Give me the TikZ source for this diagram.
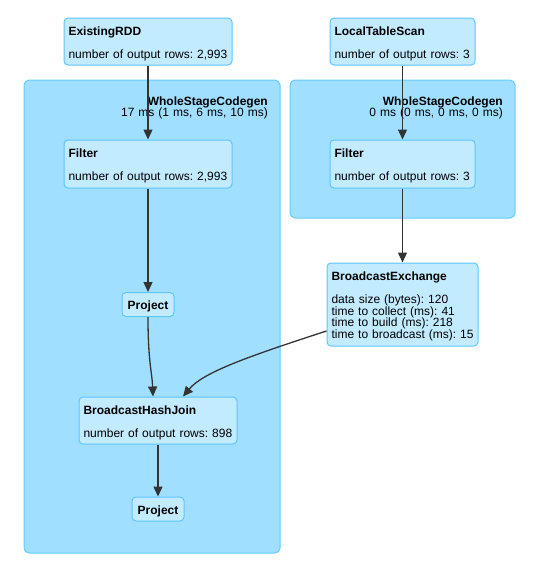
\documentclass[tikz,border=0pt]{standalone}
\usepackage{fontspec}
\setmainfont{Liberation Sans}
\usepackage{tikz}
\usetikzlibrary{arrows.meta}
\definecolor{nodefill}{HTML}{C3EBFF}
\definecolor{nodeline}{HTML}{5CC6FF}
\definecolor{clusterfill}{HTML}{A0DFFF}
\definecolor{clusterline}{HTML}{66CCFF}
\definecolor{edgeline}{HTML}{333333}

\begin{document}
\begin{tikzpicture}[x=1pt, y=-1pt,
    every node/.style={font=\fontsize{12}{11.5}\selectfont\frenchspacing, inner sep=0pt},
    op/.style={draw=nodeline, fill=nodefill, line width=1pt, rounded corners=4pt,
        align=left, inner xsep=4.5pt, text height=17pt},
    cluster/.style={draw=clusterline, fill=clusterfill, line width=1pt, rounded corners=5pt},
    clabel/.style={text width=200pt, align=right, anchor=base east},
    edge/.style={draw=edgeline, line width=1.3pt, -{Triangle[length=10pt,width=9pt]}}]
        \useasboundingbox (0,0) rectangle (550,565);

        % Define the clusters
        \node[cluster, minimum width=256pt, minimum height=473pt] (codegenA) at (152,316.5) {};
        \node[cluster, minimum width=225pt, minimum height=138pt] (codegenB) at (402.5,149) {};
        \node[clabel] (codegenAt) at (268,105) {\textbf{WholeStageCodegen}\\17 ms (1 ms, 6 ms, 10 ms)};
        \node[clabel] (codegenBt) at (503,105) {\textbf{WholeStageCodegen}\\0 ms (0 ms, 0 ms, 0 ms)};

        % Define the nodes
        \node[op, text width=159pt, text depth=30pt] (rdd) at (148,41.5)
            {\textbf{ExistingRDD}\\[12pt]number of output rows: 2,993};
        \node[op, text width=159pt, text depth=31pt] (filterA) at (148,164)
            {\textbf{Filter}\\[12pt]number of output rows: 2,993};
        \node[op, text width=43pt, text depth=7pt, align=center] (projectA) at (148,304.5)
            {\textbf{Project}};
        \node[op, text width=149pt, text depth=30pt] (join) at (158,420.5)
            {\textbf{BroadcastHashJoin}\\[12pt]number of output rows: 898};
        \node[op, text width=43pt, text depth=7pt, align=center] (projectB) at (158,509)
            {\textbf{Project}};
        \node[op, text width=136pt, text depth=30pt] (scan) at (402.5,41.5)
            {\textbf{LocalTableScan}\\[12pt]number of output rows: 3};
        \node[op, text width=136pt, text depth=31pt] (filterB) at (402.5,164)
            {\textbf{Filter}\\[12pt]number of output rows: 3};
        \node[op, text width=142pt, text depth=66pt] (exchange) at (402.5,304.5)
            {\textbf{BroadcastExchange}\\[12pt]data size (bytes): 120\\time to collect (ms): 41\\time to build (ms): 218\\\mbox{time to broadcast (ms): 15}};

        \begin{scope}
        \draw[edge] (rdd) -- (filterA);
        \draw[edge] (filterA) -- (projectA);
        \draw[edge] (projectA.south) .. controls +(0,45) and +(-1,-25) .. ([xshift=-5pt]join.north);
        \draw[edge] (exchange.west |- 0,331) .. controls +(-80,26) and +(20,-24) .. ([xshift=25pt]join.north);
        \draw[edge] (join) -- (projectB);
        \draw[edge] (scan) -- (filterB);
        \draw[edge] (filterB) -- (exchange);
        \end{scope}

    \end{tikzpicture}
\end{document}
